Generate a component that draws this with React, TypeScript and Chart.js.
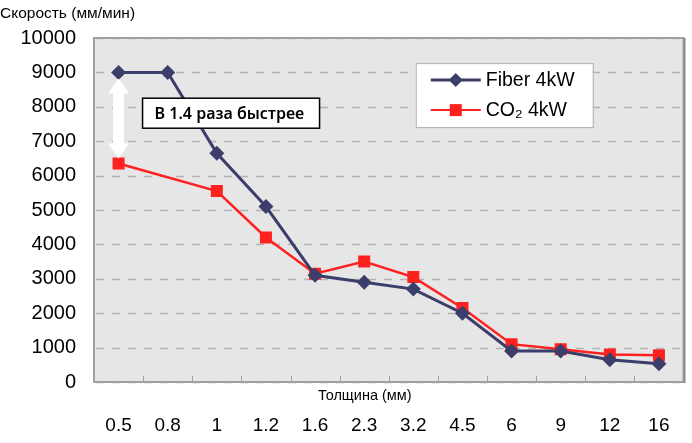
import React, { useEffect, useRef } from "react";
import { Chart, registerables } from "chart.js";

Chart.register(...registerables);

const categories = ["0.5", "0.8", "1", "1.2", "1.6", "2.3", "3.2", "4.5", "6", "9", "12", "16"];
const fiberValues = [9000, 9000, 6650, 5100, 3100, 2900, 2700, 2000, 900, 900, 650, 530];
const co2Values: (number | null)[] = [6350, null, 5550, 4200, 3150, 3500, 3050, 2150, 1100, 950, 800, 780];
const fiberLabel = "Fiber 4kW";
const co2Label = "CO\u2082 4kW";
const yTitle = "Скорость (мм/мин)";
const xTitle = "Толщина (мм)";
const noteText = "В 1.4 раза быстрее";

const FIBER_COLOR = "#3b3d6b";
const CO2_COLOR = "#ff2020";
const FONT = "'Liberation Sans', Arial, sans-serif";

const decorPlugin = {
  id: "decor",
  beforeDatasetsDraw(chart: any) {
    const { ctx, chartArea: a, scales } = chart;
    const y = scales.y;
    ctx.save();
    // plot background
    ctx.fillStyle = "#e6e6e6";
    ctx.fillRect(a.left, a.top, a.right - a.left, a.bottom - a.top);
    // dashed horizontal grid
    ctx.strokeStyle = "#b4b4b4";
    ctx.lineWidth = 1.5;
    ctx.setLineDash([8, 8]);
    y.ticks.forEach((t: any) => {
      const py = Math.round(y.getPixelForValue(t.value)) + 0.5;
      ctx.beginPath();
      ctx.moveTo(a.left + 2, py);
      ctx.lineTo(a.right, py);
      ctx.stroke();
    });
    ctx.setLineDash([]);
    // category separator ticks along bottom
    ctx.strokeStyle = "#a0a0a0";
    ctx.lineWidth = 1;
    const step = (a.right - a.left) / categories.length;
    for (let i = 1; i < categories.length; i++) {
      const px = Math.round(a.left + step * i) + 0.5;
      ctx.beginPath();
      ctx.moveTo(px, a.bottom);
      ctx.lineTo(px, a.bottom - 6);
      ctx.stroke();
    }
    // border
    ctx.strokeStyle = "#a0a0a0";
    ctx.lineWidth = 2;
    ctx.strokeRect(a.left, a.top, a.right - a.left, a.bottom - a.top);
    ctx.strokeStyle = "#8a8a8a";
    ctx.lineWidth = 2;
    ctx.beginPath();
    ctx.moveTo(a.right + 1, a.top);
    ctx.lineTo(a.right + 1, a.bottom + 1);
    ctx.stroke();
    ctx.restore();
  },
  afterDatasetsDraw(chart: any) {
    const { ctx, chartArea: a, scales } = chart;
    const x = scales.x;
    const y = scales.y;
    ctx.save();
    // double arrow
    const ax = x.getPixelForValue(0);
    const top = y.getPixelForValue(fiberValues[0]) + 6;
    const bot = y.getPixelForValue(co2Values[0] as number) - 5;
    const hw = 10.5, hh = 15, sw = 5.5;
    ctx.fillStyle = "#ffffff";
    ctx.beginPath();
    ctx.moveTo(ax, top);
    ctx.lineTo(ax + hw, top + hh);
    ctx.lineTo(ax + sw, top + hh);
    ctx.lineTo(ax + sw, bot - hh);
    ctx.lineTo(ax + hw, bot - hh);
    ctx.lineTo(ax, bot);
    ctx.lineTo(ax - hw, bot - hh);
    ctx.lineTo(ax - sw, bot - hh);
    ctx.lineTo(ax - sw, top + hh);
    ctx.lineTo(ax - hw, top + hh);
    ctx.closePath();
    ctx.fill();

    // note box
    const bx = ax + 24;
    const by = y.getPixelForValue(8250);
    const bw = 177, bh = 30;
    ctx.fillStyle = "#ffffff";
    ctx.fillRect(bx, by, bw, bh);
    ctx.strokeStyle = "#000000";
    ctx.lineWidth = 1.5;
    ctx.strokeRect(bx, by, bw, bh);
    ctx.fillStyle = "#000000";
    ctx.font = "600 16px 'Noto Sans', sans-serif";
    ctx.textBaseline = "middle";
    ctx.textAlign = "left";
    ctx.fillText(noteText, bx + 12, by + bh / 2 + 1);

    // legend
    const lx = x.getPixelForValue(6.05);
    const ly = y.getPixelForValue(9270);
    const lw = 177, lh = 64;
    ctx.fillStyle = "#ffffff";
    ctx.fillRect(lx, ly, lw, lh);
    ctx.strokeStyle = "#b0b0b0";
    ctx.lineWidth = 1;
    ctx.strokeRect(lx + 0.5, ly + 0.5, lw, lh);
    const rows = [
      { label: fiberLabel, color: FIBER_COLOR, style: "diamond", lw: 3 },
      { label: co2Label, color: CO2_COLOR, style: "square", lw: 2 },
    ];
    rows.forEach((r, i) => {
      const ry = ly + 17 + i * 30;
      ctx.strokeStyle = r.color;
      ctx.lineWidth = r.lw;
      ctx.beginPath();
      ctx.moveTo(lx + 15, ry);
      ctx.lineTo(lx + 65, ry);
      ctx.stroke();
      ctx.fillStyle = r.color;
      const cx = lx + 40;
      if (r.style === "diamond") {
        ctx.beginPath();
        ctx.moveTo(cx, ry - 7);
        ctx.lineTo(cx + 7, ry);
        ctx.lineTo(cx, ry + 7);
        ctx.lineTo(cx - 7, ry);
        ctx.closePath();
        ctx.fill();
      } else {
        ctx.fillRect(cx - 6, ry - 6, 12, 12);
      }
      ctx.fillStyle = "#000000";
      ctx.font = "19.5px " + FONT;
      ctx.textBaseline = "middle";
      ctx.fillText(r.label, lx + 70, ry + 1);
    });

    // titles
    ctx.fillStyle = "#000000";
    ctx.font = "15.5px " + FONT;
    ctx.textAlign = "left";
    ctx.textBaseline = "middle";
    ctx.fillText(yTitle, 0, 14);
    ctx.font = "14.5px " + FONT;
    ctx.textAlign = "center";
    ctx.fillText(xTitle, (a.left + a.right) / 2 - 24, a.bottom + 14);
    ctx.restore();
  },
};

export default function App() {
  const ref = useRef<HTMLCanvasElement>(null);
  useEffect(() => {
    document.body.style.margin = "0";
    const chart = new Chart(ref.current as HTMLCanvasElement, {
      type: "line",
      data: {
        labels: categories,
        datasets: [
          {
            label: fiberLabel,
            data: fiberValues,
            borderColor: FIBER_COLOR,
            backgroundColor: FIBER_COLOR,
            borderWidth: 3,
            pointStyle: "rectRot",
            pointRadius: 7.5,
            pointBorderWidth: 0,
            tension: 0,
          },
          {
            label: co2Label,
            data: co2Values,
            borderColor: CO2_COLOR,
            backgroundColor: CO2_COLOR,
            borderWidth: 2.5,
            pointStyle: "rect",
            pointRadius: 8.5,
            pointBorderWidth: 0,
            spanGaps: true,
            tension: 0,
          },
        ],
      },
      options: {
        animation: false,
        responsive: false,
        devicePixelRatio: 1,
        layout: { padding: { top: 38, right: -1, left: 0, bottom: 0 } },
        plugins: {
          legend: { display: false },
          tooltip: { enabled: false },
          title: { display: false },
        },
        scales: {
          x: {
            offset: true,
            grid: {
              display: true,
              drawOnChartArea: false,
              drawTicks: true,
              tickLength: 29,
              color: "rgba(0,0,0,0)",
            },
            border: { display: false },
            ticks: {
              color: "#000000",
              font: { family: FONT, size: 19 },
              padding: 3,
              maxRotation: 0,
              autoSkip: false,
            },
            afterFit(s: any) {
              s.height = 61;
              s.paddingLeft = 0;
              s.paddingRight = 0;
            },
          },
          y: {
            min: 0,
            max: 10000,
            grid: { display: false, drawTicks: false },
            border: { display: false },
            ticks: {
              stepSize: 1000,
              color: "#000000",
              font: { family: FONT, size: 20 },
              padding: 18,
              callback: (v: any) => String(v),
            },
            afterFit(s: any) {
              s.width = 94;
              s.paddingTop = 0;
              s.paddingBottom = 0;
            },
          },
        },
      },
      plugins: [decorPlugin],
    } as any);
    return () => chart.destroy();
  }, []);
  return (
    <div style={{ position: "absolute", left: 0, top: 0, width: 692, height: 443, background: "#fff" }}>
      <canvas ref={ref} width={692} height={443} style={{ width: 692, height: 443 }} />
    </div>
  );
}
